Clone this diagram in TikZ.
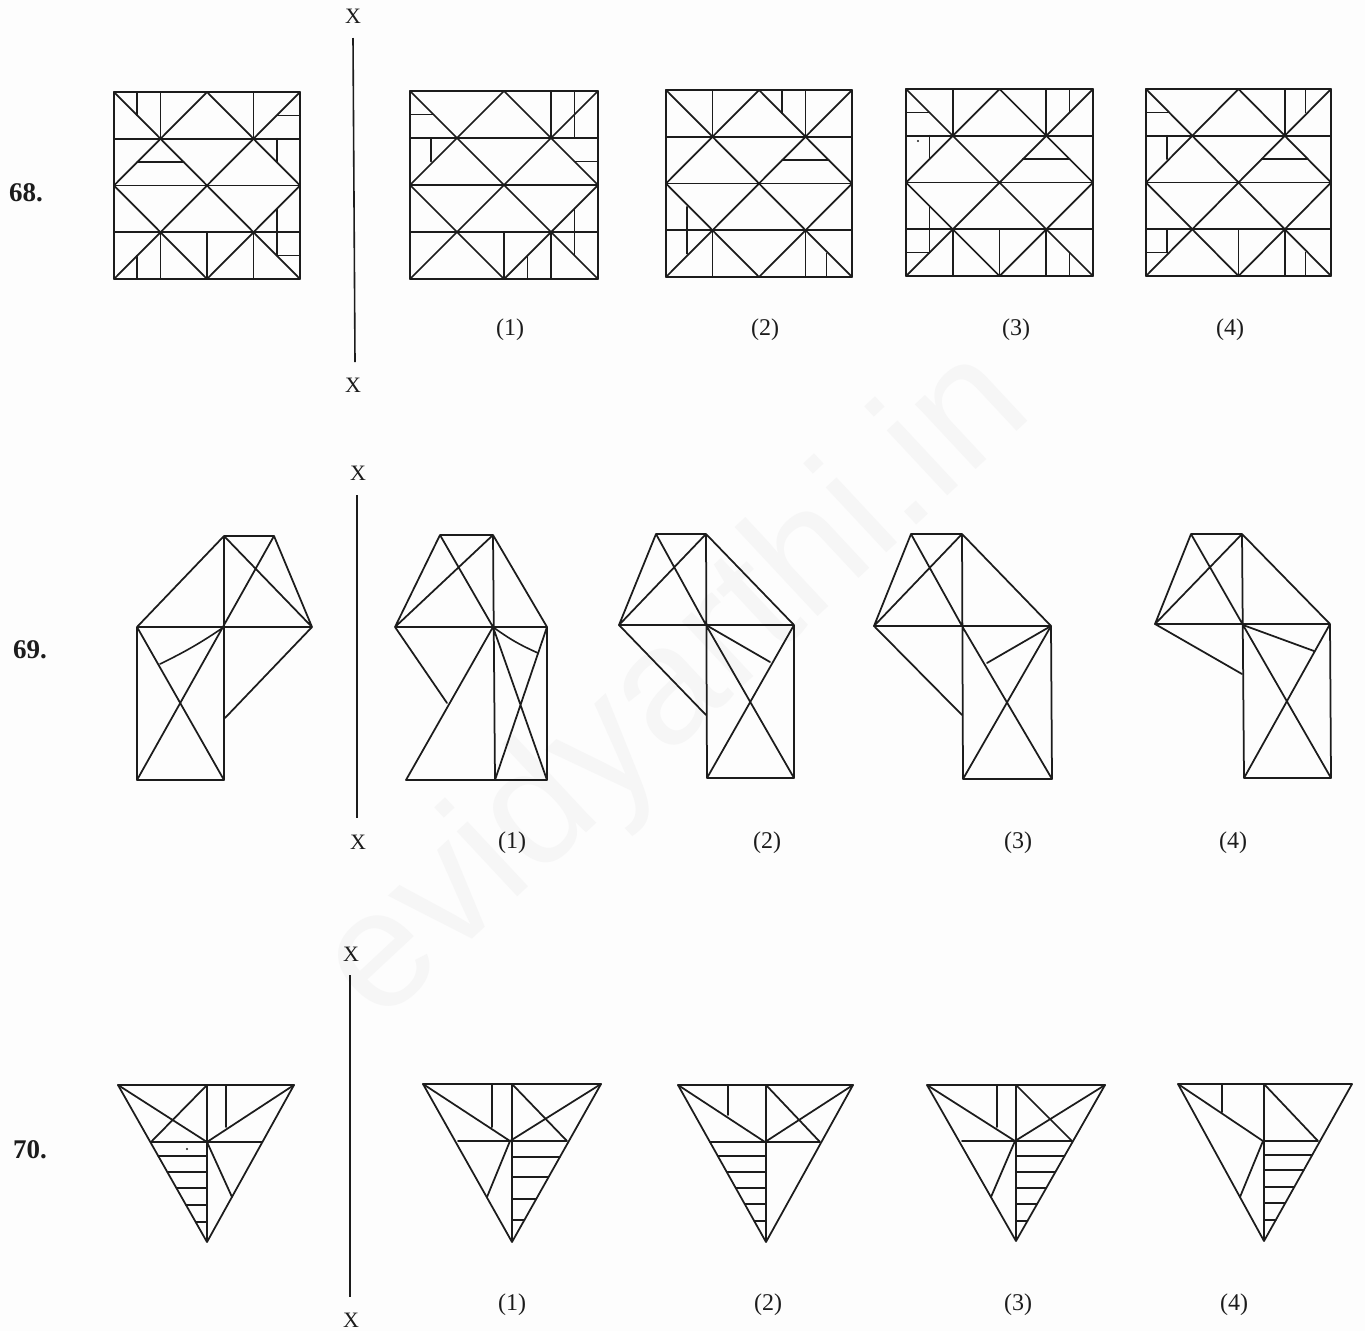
\documentclass[tikz,border=0pt]{standalone}
\usepackage{fontspec}
\setmainfont{Liberation Serif}
\usetikzlibrary{calc}
\newfontfamily\wmfont{Liberation Sans}
\definecolor{ink}{HTML}{1C1C1C}
\definecolor{paper}{HTML}{FDFDFD}
\definecolor{wmark}{HTML}{F6F6F6}
\tikzset{
  figline/.style={draw=ink,line width=1.75pt,line cap=round,line join=round},
  thinline/.style={draw=ink,line width=1.6pt,line cap=round,line join=round},
  optlabel/.style={text=ink,font=\fontsize{24}{26}\selectfont,inner sep=0pt,yshift=-2pt},
  qlabel/.style={text=ink,font=\fontsize{27}{29}\selectfont\bfseries,inner sep=0pt},
  xlabel/.style={text=ink,font=\fontsize{22}{24}\selectfont,inner sep=0pt},
  axisline/.style={draw=ink,line width=1.6pt}
}
% square figure: base grid 4x4 plus extras in grid units
\newcommand{\gridfig}[5]{%
  \begin{scope}[shift={(#1,#2)},xscale={(#3-#1)/4},yscale={(#4-#2)/4}]
    \draw[figline] (0,0) rectangle (4,4);
    \draw[figline] (0,1)--(4,1) (0,2)--(4,2) (0,3)--(4,3);
    \draw[figline] (0,0)--(4,4) (4,0)--(0,4);
    \draw[figline] (2,0)--(4,2)--(2,4)--(0,2)--cycle;
    \draw[thinline] #5;
  \end{scope}}
% kite figure shared by options 2,3,4 of question 69
\newcommand{\kitefig}[7]{%
  \coordinate (TL) at (#1); \coordinate (TR) at (#2); \coordinate (Lf) at (#3);
  \coordinate (Mi) at (#4); \coordinate (Rg) at (#5); \coordinate (BL) at (#6); \coordinate (BR) at (#7);
  \draw[figline] (TL)--(TR) (Lf)--(TL) (Lf)--(TR) (TL)--(Mi) (TR)--(BL) (TR)--(Rg)
     (Lf)--(Rg) (Rg)--(BR) (BL)--(BR) (Mi)--(BR) (Rg)--(BL);}
% triangle of question 70
\newcommand{\trifig}[4]{%
  \coordinate (Lt) at (#1); \coordinate (Rt) at (#2); \coordinate (Ap) at (#3); \coordinate (Tc) at (#4);
  \draw[figline] (Lt)--(Rt)--(Ap)--cycle (Tc)--(Ap);}
\newcommand{\hatchlines}[2]{%
  \foreach \f in {#2} \draw[thinline] ($(#1)!\f!(Ap)$) -- ($(Tc)!\f!(Ap)$);}
\begin{document}
\begin{tikzpicture}[x=1pt,y=-1pt]
\useasboundingbox (0,0) rectangle (1365,1331);
\fill[paper] (0,0) rectangle (1365,1331);
\node[rotate=43,text=wmark,inner sep=0pt] (wm) at (678,688)
  {\fontsize{168}{168}\selectfont\wmfont evidyarthi.in};

% ---------- Question 68
\node[qlabel] (q68) at (26,193) {68.};
\node[xlabel] (x68a) at (353,16) {X};
\node[xlabel] (x68b) at (353,385) {X};
\coordinate (a68) at (353,38);
\coordinate (b68) at (355,362);
\draw[axisline] (a68) -- (b68);

\gridfig{114}{92}{300}{279}{(.5,0)--(.5,.5) (1,0)--(1,1) (3,0)--(3,1) (3.5,.5)--(4,.5)
  (3.5,1)--(3.5,1.5) (.5,1.5)--(1.5,1.5) (1,3)--(1,4) (2,3)--(2,4) (3,3)--(3,4)
  (.5,3.5)--(.5,4) (3.5,2.5)--(3.5,3.5) (3.5,3.5)--(4,3.5)}
\gridfig{410}{91}{598}{279}{(3,0)--(3,1) (3.5,0)--(3.5,1) (0,.5)--(.5,.5) (.45,1)--(.45,1.5)
  (3.5,1.5)--(4,1.5) (2,3)--(2,4) (2.5,3.5)--(2.5,4) (3,3)--(3,4) (3.5,2.5)--(3.5,3.5)}
\gridfig{666}{90}{852}{277}{(1,0)--(1,1) (2.5,0)--(2.5,.5) (3,0)--(3,1) (2.5,1.5)--(3.5,1.5)
  (.45,2.5)--(.45,3.5) (1,3)--(1,4) (3,3)--(3,4) (3.45,3.5)--(3.45,4)}
\gridfig{906}{89}{1093}{276}{(0,.5)--(.5,.5) (1,0)--(1,1) (3,0)--(3,1) (3.5,0)--(3.5,.5)
  (.5,1)--(.5,1.5) (2.5,1.5)--(3.5,1.5) (.5,2.5)--(.5,3.5) (0,3.5)--(.5,3.5)
  (1,3)--(1,4) (2,3)--(2,4) (3,3)--(3,4) (3.5,3.5)--(3.5,4)}
\gridfig{1146}{89}{1331}{276}{(0,.5)--(.5,.5) (3,0)--(3,1) (3.45,0)--(3.45,.5) (.45,1)--(.45,1.5)
  (2.5,1.5)--(3.5,1.5) (.45,3)--(.45,3.5) (0,3.5)--(.45,3.5) (2,3)--(2,4) (3,3)--(3,4) (3.45,3.5)--(3.45,4)}
\fill[ink] (918,141) circle (1.2);
\node[optlabel] (o681) at (510,328) {(1)};
\node[optlabel] (o682) at (765,328) {(2)};
\node[optlabel] (o683) at (1016,328) {(3)};
\node[optlabel] (o684) at (1230,328) {(4)};

% ---------- Question 69
\node[qlabel] (q69) at (30,650) {69.};
\node[xlabel] (x69a) at (358,473) {X};
\node[xlabel] (x69b) at (358,842) {X};
\coordinate (a69) at (357,495);
\coordinate (b69) at (357,818);
\draw[axisline] (a69) -- (b69);

% question figure
\coordinate (A) at (224,536); \coordinate (B) at (274,536); \coordinate (C) at (137,627);
\coordinate (D) at (224,627); \coordinate (E) at (312,627); \coordinate (F) at (137,780);
\coordinate (G) at (224,780); \coordinate (H) at (225,718); \coordinate (J) at (160,664);
\draw[figline] (A)--(B) (C)--(A) (A)--(G) (C)--(E) (C)--(F) (F)--(G) (B)--(E) (A)--(E)
  (B)--(F) (C)--(G) (E)--(H);
\draw[thinline] (D) to[bend left=4] (J);
% option 1
\coordinate (A) at (440,535); \coordinate (B) at (493,535); \coordinate (C) at (395,627);
\coordinate (D) at (493,627); \coordinate (E) at (547,627); \coordinate (F) at (406,780);
\coordinate (G) at (495,780); \coordinate (H) at (547,780); \coordinate (J) at (447,703);
\coordinate (K) at (538,653);
\draw[figline] (A)--(B) (C)--(A) (C)--(B) (A)--(D) (B)--(G) (B)--(E) (C)--(E) (E)--(H)
  (F)--(H) (D)--(F) (C)--(J) (D)--(H) (E)--(G);
\draw[thinline] (D) to[bend right=6] (K);
% options 2 - 4
\kitefig{656,534}{706,534}{619,625}{706,625}{794,625}{707,778}{794,778}
\draw[figline] (Lf)--(706,715) (Mi)--(770,662);
\kitefig{911,534}{962,534}{874,626}{962,626}{1051,626}{963,779}{1052,779}
\draw[figline] (Lf)--(962,715) (Rg)--(987,663);
\kitefig{1191,534}{1242,534}{1155,624}{1243,625}{1330,624}{1244,778}{1331,778}
\draw[figline] (Lf)--(1242,674) (Mi)--(1314,651);
\node[optlabel] (o691) at (512,841) {(1)};
\node[optlabel] (o692) at (767,841) {(2)};
\node[optlabel] (o693) at (1018,841) {(3)};
\node[optlabel] (o694) at (1233,841) {(4)};

% ---------- Question 70
\node[qlabel] (q70) at (30,1150) {70.};
\node[xlabel] (x70a) at (351,954) {X};
\node[xlabel] (x70b) at (351,1320) {X};
\coordinate (a70) at (350,975);
\coordinate (b70) at (350,1297);
\draw[axisline] (a70) -- (b70);

% question figure
\trifig{118,1085}{294,1085}{207,1242}{207,1085}
\coordinate (Ce) at (207,1142); \coordinate (Lm) at (151,1142); \coordinate (Rm) at (262,1142);
\draw[figline] (Lm)--(Rm) (Lt)--(Ce) (Lm)--(Tc) (Rt)--(Ce) (226,1085)--(226,1127) (Ce)--(232,1197);
\hatchlines{Lt}{.452,.554,.656,.764,.873}
\fill[ink] (187,1149) circle (1.2);
% option 1
\trifig{423,1084}{601,1084}{512,1242}{512,1084}
\coordinate (Ce) at (510,1141); \coordinate (Lm) at (458,1141); \coordinate (Rm) at (567,1141);
\draw[figline] (Lm)--(Rm) (Lt)--(Ce) (Rt)--(Ce) (Tc)--(Rm) (492,1084)--(492,1127) (Ce)--(487,1197);
\hatchlines{Rt}{.462,.589,.728,.86}
% option 2
\trifig{678,1085}{853,1085}{766,1242}{766,1085}
\coordinate (Ce) at (765,1142); \coordinate (Lm) at (710,1142); \coordinate (Rm) at (820,1142);
\draw[figline] (Lm)--(Rm) (Lt)--(Ce) (Rt)--(Ce) (Tc)--(Rm) (728,1085)--(728,1115);
\hatchlines{Lt}{.452,.554,.656,.758,.866}
% option 3
\trifig{927,1085}{1105,1085}{1016,1241}{1016,1085}
\coordinate (Ce) at (1015,1141); \coordinate (Lm) at (962,1141); \coordinate (Rm) at (1072,1141);
\draw[figline] (Lm)--(Rm) (Lt)--(Ce) (Rt)--(Ce) (Tc)--(Rm) (997,1085)--(997,1127) (Ce)--(991,1197);
\hatchlines{Rt}{.455,.558,.66,.763,.87}
% option 4
\trifig{1178,1084}{1352,1084}{1264,1241}{1264,1084}
\coordinate (Ce) at (1263,1141); \coordinate (Rm) at (1318,1141);
\draw[figline] (Ce)--(Rm) (Lt)--(Ce) (Tc)--(Rm) (1222,1084)--(1222,1112) (Ce)--(1240,1197);
\hatchlines{Rt}{.452,.548,.656,.758,.866}
\node[optlabel] (o701) at (512,1303) {(1)};
\node[optlabel] (o702) at (768,1303) {(2)};
\node[optlabel] (o703) at (1018,1303) {(3)};
\node[optlabel] (o704) at (1234,1303) {(4)};
\end{tikzpicture}
\end{document}
